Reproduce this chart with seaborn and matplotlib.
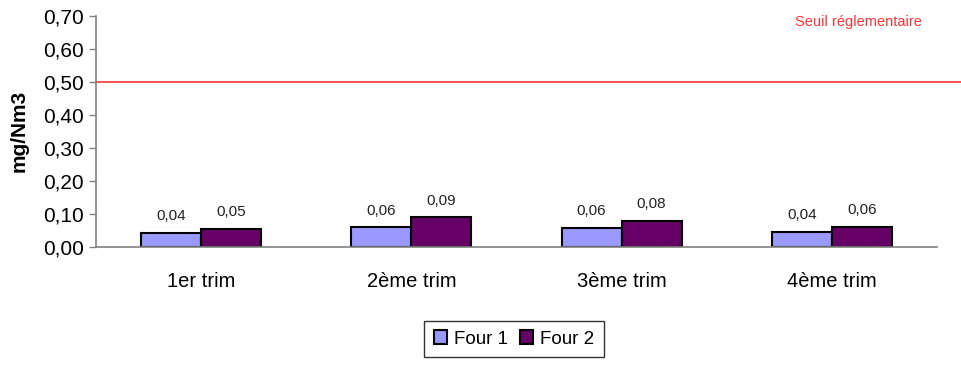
import numpy as np
import pandas as pd
import matplotlib
matplotlib.use("Agg")
import matplotlib.pyplot as plt
import seaborn as sns

# Data
trimestres = ["1er trim", "2ème trim", "3ème trim", "4ème trim"]
four1 = [0.042, 0.059, 0.056, 0.044]
four2 = [0.053, 0.089, 0.078, 0.061]
seuil = 0.50
yticks = [0.0, 0.1, 0.2, 0.3, 0.4, 0.5, 0.6, 0.7]

df = pd.DataFrame({
    "trim": trimestres * 2,
    "valeur": four1 + four2,
    "four": ["Four 1"] * 4 + ["Four 2"] * 4,
})

sns.set_style("white")
plt.rcParams["font.family"] = ["Liberation Sans", "DejaVu Sans"]
plt.rcParams["text.color"] = "black"
plt.rcParams["axes.labelcolor"] = "black"
plt.rcParams["xtick.labelcolor"] = "black"
plt.rcParams["ytick.labelcolor"] = "black"

fig = plt.figure(figsize=(9.61, 3.68), dpi=100)
ax = fig.add_axes([96 / 961, (368 - 246.7) / 368, (937 - 96) / 961, (246.7 - 15.7) / 368])

sns.barplot(data=df, x="trim", y="valeur", hue="four", order=trimestres,
            palette={"Four 1": "#9999FF", "Four 2": "#660066"}, saturation=1,
            width=0.57, edgecolor="black", linewidth=1.5, ax=ax, legend=True)

# value labels
for cont in ax.containers:
    labs = [f"{b.get_height():.2f}".replace(".", ",") for b in cont]
    ax.bar_label(cont, labels=labs, padding=7, fontsize=11, color="#222222")

# threshold line
ax.axhline(seuil, xmin=0, xmax=(961 - 96) / (937 - 96), color="#FF3333",
           linewidth=1.2, clip_on=False)
ax.text(3.125, 0.681, "Seuil réglementaire", color="#FF3333", fontsize=10.5,
        ha="center", va="center")

ax.set_xlim(-0.5, 3.5)
ax.set_ylim(0, 0.70)
ax.set_yticks(yticks)
ax.set_yticklabels([f"{t:.2f}".replace(".", ",") for t in yticks], fontsize=15)

# ticks at category boundaries, labels centred
ax.set_xticks(np.arange(-0.5, 4, 1))
ax.set_xticklabels([])
ax.set_xticks(range(4), minor=True)
ax.set_xticklabels(trimestres, minor=True, fontsize=14.5)
ax.tick_params(axis="x", which="major", direction="out", length=5, color="#808080", width=1)
ax.tick_params(axis="x", which="minor", length=0, pad=18)
ax.tick_params(axis="y", direction="out", length=5, color="#808080", width=1, pad=4, left=True)

ax.set_xlabel("")
ax.set_ylabel("mg/Nm3", fontsize=15, fontweight="bold", labelpad=10)

for s in ["top", "right"]:
    ax.spines[s].set_visible(False)
for s in ["left", "bottom"]:
    ax.spines[s].set_color("#808080")
    ax.spines[s].set_linewidth(1.2)

ax.get_legend().remove()
handles, labels = ax.get_legend_handles_labels()
leg = fig.legend(handles, labels, loc="center", bbox_to_anchor=(514 / 961, 1 - 339 / 368),
                 ncol=2, fontsize=13.5, frameon=True, fancybox=False,
                 handlelength=0.7, handleheight=0.7, handletextpad=0.4,
                 columnspacing=0.6, borderpad=0.5, edgecolor="black")
leg.get_frame().set_linewidth(1.0)

fig.savefig("out.png", dpi=100)
